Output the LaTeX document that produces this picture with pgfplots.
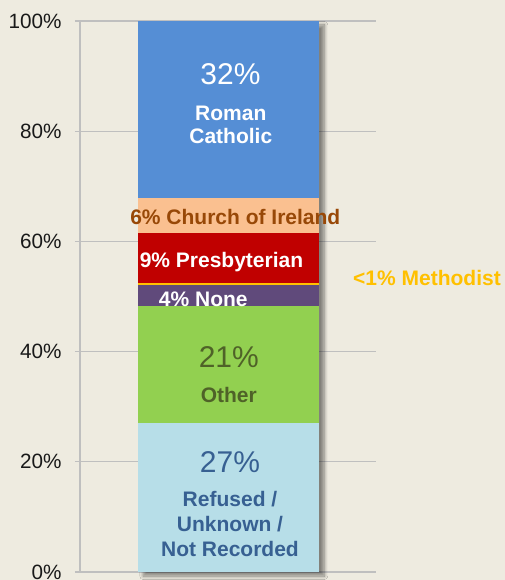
\documentclass[border=0pt]{standalone}
\usepackage{pgfplots}
\pgfplotsset{compat=1.18}
\usepackage{fontspec}
\setmainfont{Liberation Sans}
\usetikzlibrary{shadows.blur}
\definecolor{bg}{HTML}{EEEBE0}
\definecolor{gridc}{HTML}{BFBFBF}
\definecolor{cRef}{HTML}{B7DEE8}
\definecolor{cOther}{HTML}{92D050}
\definecolor{cNone}{HTML}{604A7B}
\definecolor{cMeth}{HTML}{FFC000}
\definecolor{cPres}{HTML}{C00000}
\definecolor{cCoI}{HTML}{FAC090}
\definecolor{cRC}{HTML}{558ED5}
\definecolor{tCoI}{HTML}{984807}
\definecolor{tOther}{HTML}{4F6228}
\definecolor{tRef}{HTML}{376092}
\newcommand{\bigf}{\fontsize{30}{34}\selectfont}
\newcommand{\lab}{\fontsize{21}{25}\selectfont\bfseries}
\pgfplotsset{base/.style={
  at={(0,0)}, anchor=south west,
  scale only axis, width=296pt, height=551pt,
  xmin=0, xmax=296, ymin=0, ymax=100}}
\begin{document}
\begin{tikzpicture}[x=1pt,y=1pt]
\path[use as bounding box, fill=bg] (-80,-8) rectangle (425,572);
\begin{axis}[base,
  axis x line*=bottom, axis y line*=left,
  axis line style={gridc, line width=1.3pt, -},
  xtick=\empty,
  ytick={0,20,40,60,80,100},
  yticklabel={\pgfmathprintnumber{\tick}\%},
  /pgf/number format/assume math mode=true,
  yticklabel style={font=\fontsize{20.7}{24}\selectfont, text={black!90}, xshift=-10pt},
  tick align=outside, major tick length=5pt,
  ytick style={gridc, line width=1.3pt},
  ymajorgrids, grid style={gridc, line width=1.3pt},
  clip=false,
]
\addplot[ybar, bar width=181pt, fill=bg, draw=none,
  blur shadow={shadow xshift=5pt, shadow yshift=-4pt, shadow blur radius=3.5pt, shadow blur steps=10, shadow opacity=45}]
  coordinates {(148.8,100)};
\end{axis}
\begin{axis}[base, hide axis, clip=false, ybar stacked, bar width=181pt]
\addplot[fill=cRef, draw=none] coordinates {(148.8,27)};
\addplot[fill=cOther, draw=none] coordinates {(148.8,21.3)};
\addplot[fill=cNone, draw=none] coordinates {(148.8,3.8)};
\addplot[fill=cMeth, draw=none] coordinates {(148.8,0.4)};
\addplot[fill=cPres, draw=none] coordinates {(148.8,9.1)};
\addplot[fill=cCoI, draw=none] coordinates {(148.8,6.3)};
\addplot[fill=cRC, draw=none] coordinates {(148.8,32.1)};
\end{axis}
\begin{axis}[base, hide axis, clip=false]
\node[anchor=base, text=white, font=\bigf] at (axis cs:150.5,88.5) {32\%};
\node[anchor=base, text=white, font=\lab] at (axis cs:150.8,82.0) {Roman};
\node[anchor=base, text=white, font=\lab] at (axis cs:150.8,77.7) {Catholic};
\node[anchor=base, text=tCoI, font=\lab] at (axis cs:155.3,63.0) {6\% Church of Ireland};
\node[anchor=base, text=white, font=\lab] at (axis cs:141.5,55.3) {9\% Presbyterian};
\node[anchor=base, text=white, font=\lab] at (axis cs:123.3,48.1) {4\% None};
\node[anchor=base, text=cMeth, font=\lab] at (axis cs:347,52.0) {<1\% Methodist};
\node[anchor=base, text=tOther, font=\bigf] at (axis cs:148.8,37.1) {21\%};
\node[anchor=base, text=tOther, font=\lab] at (axis cs:148.8,30.8) {Other};
\node[anchor=base, text=tRef, font=\bigf] at (axis cs:150,18.1) {27\%};
\node[anchor=base, text=tRef, font=\lab] at (axis cs:150,11.85) {Refused /};
\node[anchor=base, text=tRef, font=\lab] at (axis cs:150,7.3) {Unknown /};
\node[anchor=base, text=tRef, font=\lab] at (axis cs:150,2.8) {Not Recorded};
\end{axis}
\end{tikzpicture}
\end{document}
